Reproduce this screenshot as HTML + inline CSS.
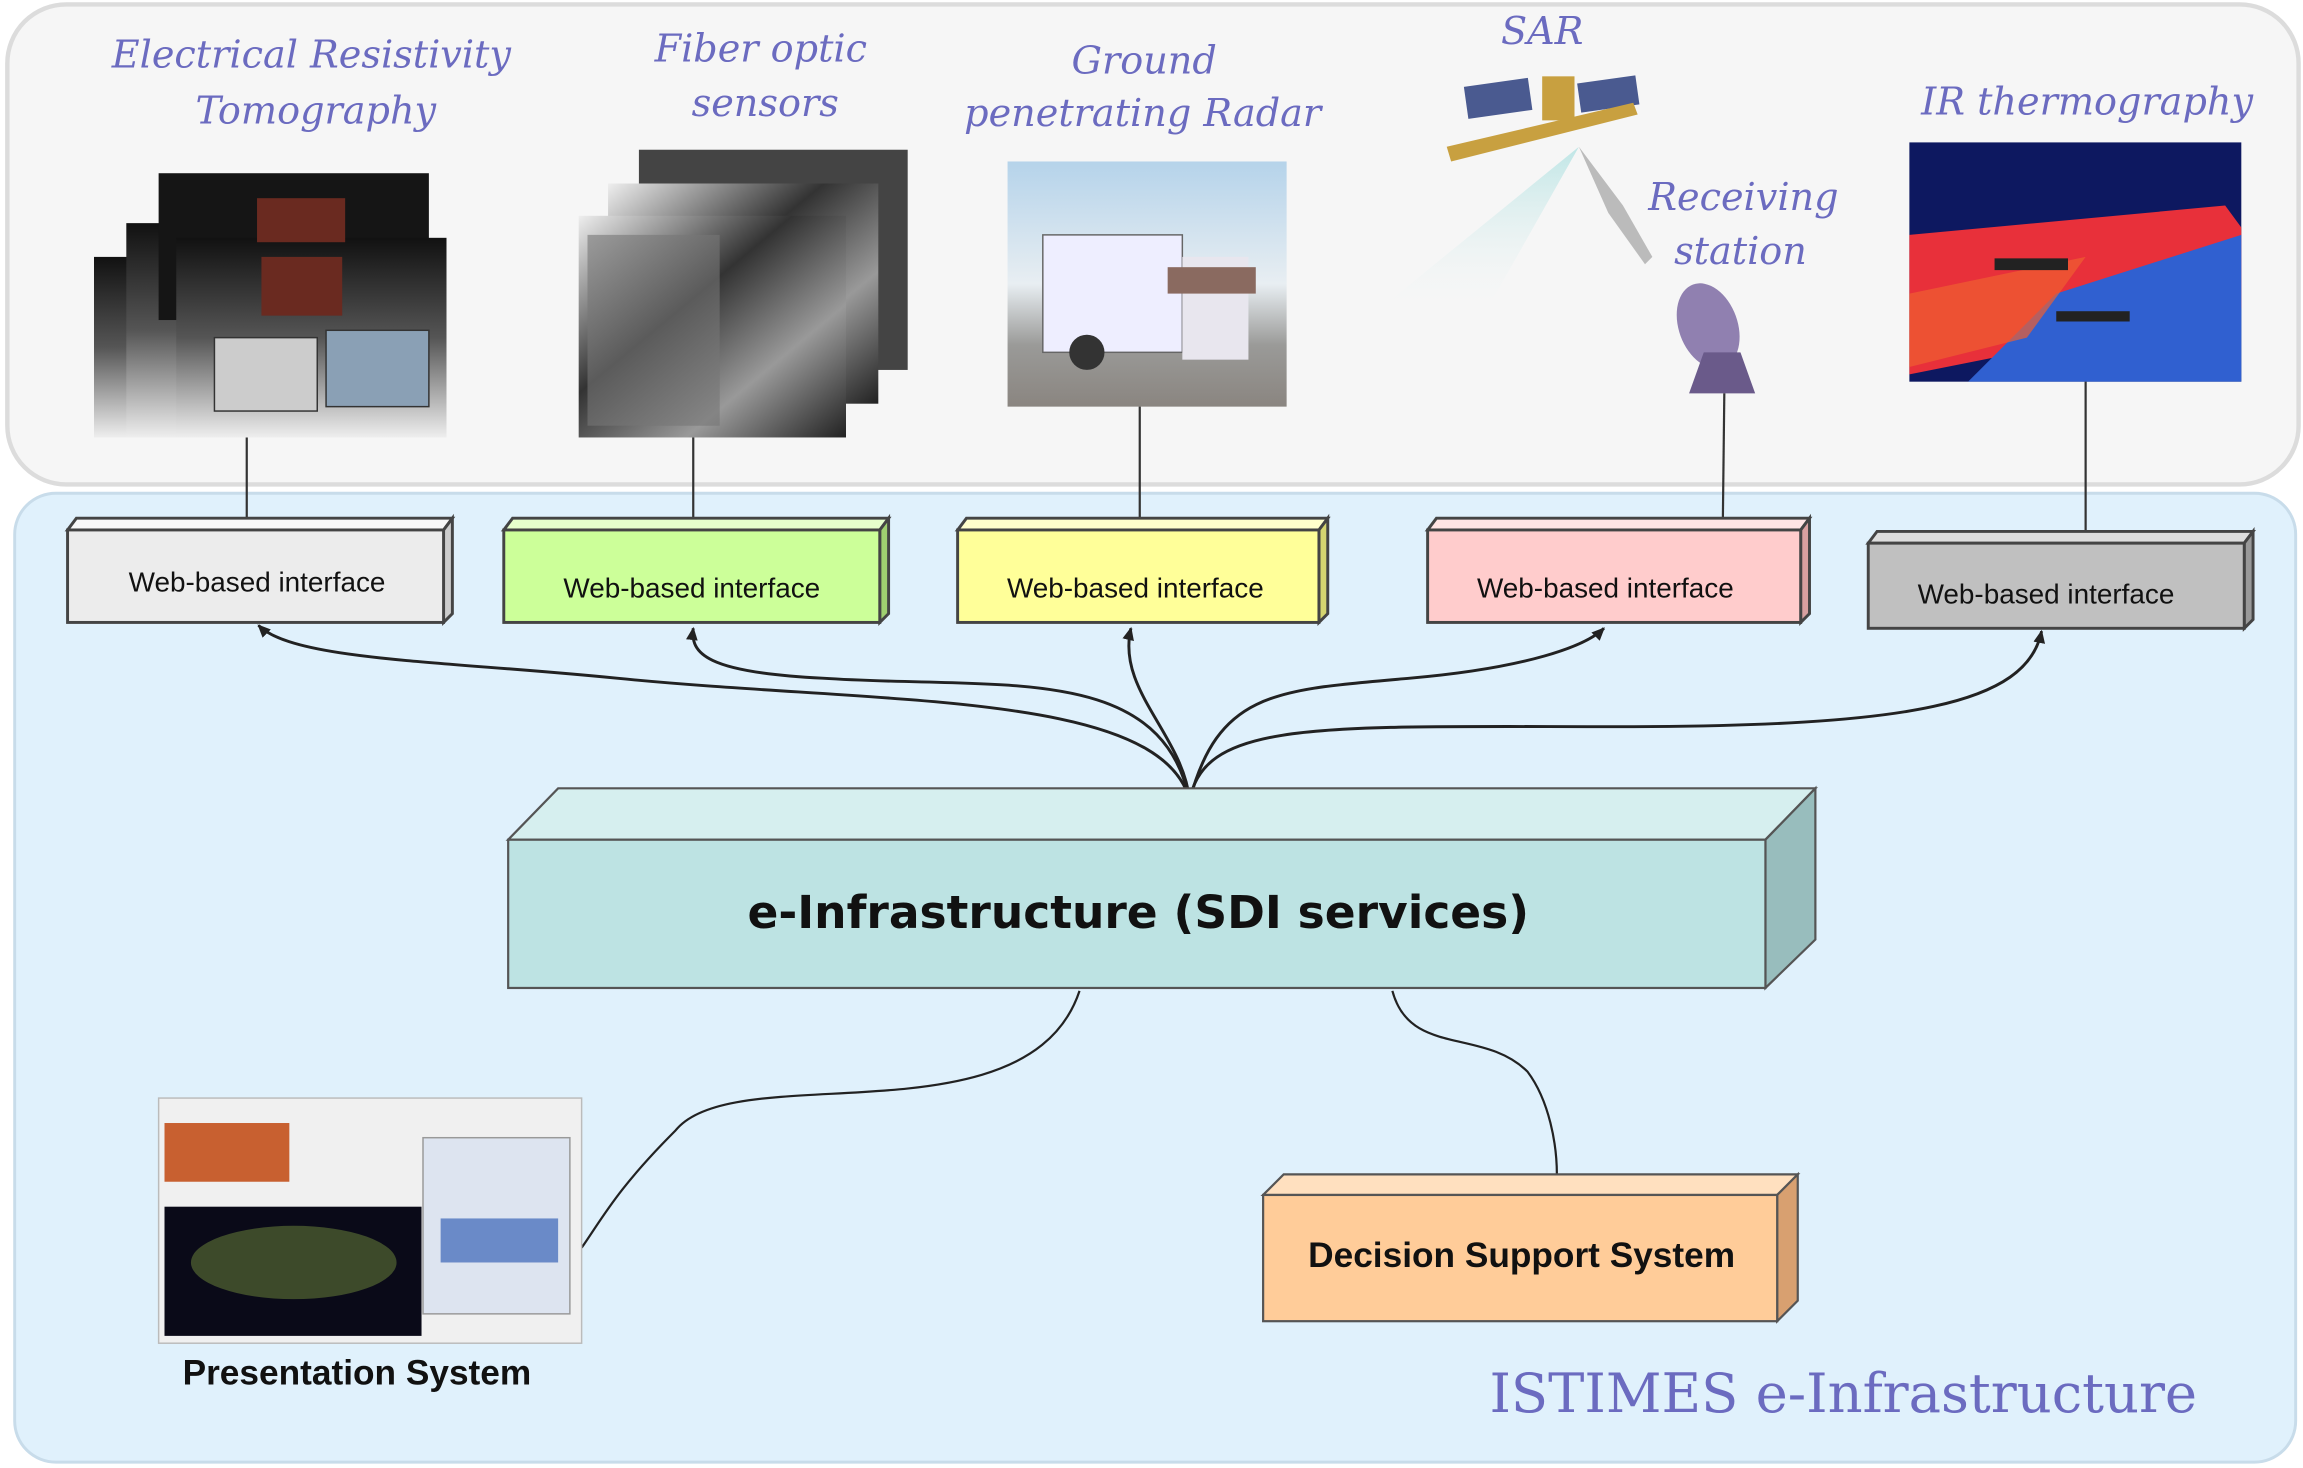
<!DOCTYPE html>
<html><head><meta charset="utf-8"><style>
html,body{margin:0;padding:0;background:#fff;}
svg{display:block;}
.hw{font-family:"URW Chancery L","DejaVu Serif","Liberation Serif",serif;font-style:italic;fill:#6b6bc0;}
.wb{font-family:"Liberation Sans",sans-serif;font-size:19px;fill:#111;}
</style></head><body>
<svg width="2303" height="1468" viewBox="0 0 1568 1000" preserveAspectRatio="none" xmlns="http://www.w3.org/2000/svg">
<defs>
<linearGradient id="ert" x1="0" y1="0" x2="0" y2="1"><stop offset="0" stop-color="#111"/><stop offset="0.5" stop-color="#555"/><stop offset="1" stop-color="#eee"/></linearGradient>
<linearGradient id="fib" x1="0" y1="0" x2="1" y2="1"><stop offset="0" stop-color="#eee"/><stop offset="0.4" stop-color="#333"/><stop offset="0.7" stop-color="#999"/><stop offset="1" stop-color="#222"/></linearGradient>
<linearGradient id="gpr" x1="0" y1="0" x2="0" y2="1"><stop offset="0" stop-color="#b5d3ea"/><stop offset="0.5" stop-color="#e8eef2"/><stop offset="0.75" stop-color="#9a9a98"/><stop offset="1" stop-color="#8a8580"/></linearGradient>
<linearGradient id="beam" x1="0" y1="0" x2="0" y2="1"><stop offset="0" stop-color="#bfe6e6"/><stop offset="1" stop-color="#f6f6f6" stop-opacity="0"/></linearGradient>
<marker id="ar" markerWidth="10" markerHeight="10" refX="8" refY="5" orient="auto" markerUnits="userSpaceOnUse"><path d="M0,1 L9,5 L0,9 Z" fill="#222"/></marker>
</defs>
<rect width="1568" height="1000" fill="#fff"/>
<rect x="5" y="3" width="1560" height="327" rx="40" fill="#f6f6f6" stroke="#dcdcdc" stroke-width="3"/>
<rect x="10" y="336" width="1553" height="660" rx="28" fill="#e0f1fc" stroke="#c8dcea" stroke-width="2"/>

<text class="hw" x="212" y="46" font-size="26" text-anchor="middle">Electrical Resistivity</text>
<text class="hw" x="215" y="84" font-size="26" text-anchor="middle">Tomography</text>
<text class="hw" x="518" y="42" font-size="26" text-anchor="middle">Fiber optic</text>
<text class="hw" x="521" y="79" font-size="26" text-anchor="middle">sensors</text>
<text class="hw" x="779" y="50" font-size="26" text-anchor="middle">Ground</text>
<text class="hw" x="778" y="86" font-size="26" text-anchor="middle">penetrating Radar</text>
<text class="hw" x="1050" y="30" font-size="26" text-anchor="middle">SAR</text>
<text class="hw" x="1187" y="143" font-size="26" text-anchor="middle">Receiving</text>
<text class="hw" x="1185" y="180" font-size="26" text-anchor="middle">station</text>
<text class="hw" x="1421" y="78" font-size="26" text-anchor="middle">IR thermography</text>

<rect x="64" y="175" width="110" height="123" fill="url(#ert)"/>
<rect x="86" y="152" width="120" height="146" fill="url(#ert)"/>
<rect x="108" y="118" width="184" height="100" fill="#151515"/>
<rect x="120" y="162" width="184" height="136" fill="url(#ert)"/>
<rect x="175" y="135" width="60" height="30" fill="#6a2a20"/>
<rect x="178" y="175" width="55" height="40" fill="#6a2a20"/>
<rect x="146" y="230" width="70" height="50" fill="#ccc" stroke="#333"/>
<rect x="222" y="225" width="70" height="52" fill="#8aa0b5" stroke="#333"/>

<rect x="435" y="102" width="183" height="150" fill="#444"/>
<rect x="414" y="125" width="184" height="150" fill="url(#fib)"/>
<rect x="394" y="147" width="182" height="151" fill="url(#fib)"/>
<rect x="400" y="160" width="90" height="130" fill="#777" opacity="0.6"/>

<rect x="686" y="110" width="190" height="167" fill="url(#gpr)"/>
<rect x="710" y="160" width="95" height="80" fill="#eef" stroke="#666"/>
<rect x="805" y="175" width="45" height="70" fill="#e8e6ee"/>
<rect x="795" y="182" width="60" height="18" fill="#8a6a60"/>
<circle cx="740" cy="240" r="12" fill="#333"/>

<polygon points="940,210 1075,100 1010,215" fill="url(#beam)"/>
<polygon points="1075,100 1105,140 1125,175 1120,180 1095,145" fill="#bbb"/>
<rect x="998" y="56" width="44" height="22" fill="#4a5a90" transform="rotate(-8 1020 67)"/>
<rect x="1075" y="54" width="40" height="20" fill="#4a5a90" transform="rotate(-8 1095 64)"/>
<rect x="1050" y="52" width="22" height="30" fill="#c8a040"/>
<polygon points="985,100 1112,70 1115,78 988,110" fill="#c8a040"/>
<ellipse cx="1163" cy="222" rx="20" ry="30" fill="#9080b0" transform="rotate(-20 1163 222)"/>
<polygon points="1160,240 1185,240 1195,268 1150,268" fill="#6a5a8a"/>

<rect x="1300" y="97" width="226" height="163" fill="#0d1860"/>
<polygon points="1300,160 1515,140 1526,155 1526,210 1300,255" fill="#e8303a"/>
<polygon points="1400,200 1526,160 1526,260 1340,260" fill="#3060d0"/>
<polygon points="1300,200 1420,175 1380,230 1300,250" fill="#f06030" opacity="0.7"/>
<rect x="1358" y="176" width="50" height="8" fill="#222"/>
<rect x="1400" y="212" width="50" height="7" fill="#222"/>

<g stroke="#333" stroke-width="1.5">
<line x1="168" y1="298" x2="168" y2="355"/>
<line x1="472" y1="298" x2="472" y2="355"/>
<line x1="776" y1="277" x2="776" y2="355"/>
<line x1="1174" y1="268" x2="1173" y2="355"/>
<line x1="1420" y1="260" x2="1420" y2="362"/>
</g>

<g stroke="#444" stroke-width="2">
<polygon points="52,353 308,353 302,361 46,361" fill="#f8f8f8"/>
<polygon points="302,361 308,353 308,418 302,424" fill="#ccc"/>
<rect x="46" y="361" width="256" height="63" fill="#ececec"/>
<polygon points="349,353 605,353 599,361 343,361" fill="#e6ffcc"/>
<polygon points="599,361 605,353 605,418 599,424" fill="#9fcf70"/>
<rect x="343" y="361" width="256" height="63" fill="#ccff99"/>
<polygon points="658,353 904,353 898,361 652,361" fill="#ffffcc"/>
<polygon points="898,361 904,353 904,418 898,424" fill="#d5d570"/>
<rect x="652" y="361" width="246" height="63" fill="#ffff99"/>
<polygon points="978,353 1232,353 1226,361 972,361" fill="#ffe4e4"/>
<polygon points="1226,361 1232,353 1232,418 1226,424" fill="#d8a0a0"/>
<rect x="972" y="361" width="254" height="63" fill="#ffcccc"/>
<polygon points="1278,362 1534,362 1528,370 1272,370" fill="#ddd"/>
<polygon points="1528,370 1534,362 1534,422 1528,428" fill="#999"/>
<rect x="1272" y="370" width="256" height="58" fill="#c0c0c0"/>
</g>
<text class="wb" x="175" y="403" text-anchor="middle">Web-based interface</text>
<text class="wb" x="471" y="407" text-anchor="middle">Web-based interface</text>
<text class="wb" x="773" y="407" text-anchor="middle">Web-based interface</text>
<text class="wb" x="1093" y="407" text-anchor="middle">Web-based interface</text>
<text class="wb" x="1393" y="411" text-anchor="middle">Web-based interface</text>

<g fill="none" stroke="#222" stroke-width="2" marker-end="url(#ar)">
<path d="M810,545 C790,470 600,480 420,462 C300,450 200,450 176,426"/>
<path d="M810,545 C790,450 680,470 560,462 C480,458 470,445 472,428"/>
<path d="M810,545 C805,500 760,470 770,428"/>
<path d="M810,545 C830,470 870,470 960,462 C1040,455 1080,440 1092,428"/>
<path d="M810,545 C820,490 900,495 1100,495 C1300,495 1380,480 1390,430"/>
</g>

<g stroke="#555" stroke-width="1.5">
<polygon points="380,537 1236,537 1202,572 346,572" fill="#d6efef"/>
<polygon points="1202,572 1236,537 1236,640 1202,673" fill="#98bdbd"/>
<rect x="346" y="572" width="856" height="101" fill="#bde3e3"/>
</g>
<text x="775" y="632" font-family="'DejaVu Sans','Liberation Sans',sans-serif" font-weight="bold" font-size="31" text-anchor="middle" fill="#111">e-Infrastructure (SDI services)</text>

<g fill="none" stroke="#222" stroke-width="1.5">
<path d="M735,675 C700,780 500,720 460,770 C420,810 410,830 396,850"/>
<path d="M948,675 C960,720 1010,700 1040,730 C1055,750 1060,780 1060,800"/>
</g>

<g stroke="#555" stroke-width="1.5">
<polygon points="874,800 1224,800 1210,814 860,814" fill="#ffe0bf"/>
<polygon points="1210,814 1224,800 1224,886 1210,900" fill="#d8a070"/>
<rect x="860" y="814" width="350" height="86" fill="#ffcc99"/>
</g>
<text x="1036" y="863" font-family="'Liberation Sans',sans-serif" font-weight="bold" font-size="24" text-anchor="middle" fill="#111">Decision Support System</text>

<rect x="108" y="748" width="288" height="167" fill="#f0f0f0" stroke="#bbb"/>
<rect x="112" y="765" width="85" height="40" fill="#c86030"/>
<rect x="112" y="822" width="175" height="88" fill="#0a0a18"/>
<ellipse cx="200" cy="860" rx="70" ry="25" fill="#4a5a30" opacity="0.8"/>
<rect x="288" y="775" width="100" height="120" fill="#dde4f0" stroke="#999"/>
<rect x="300" y="830" width="80" height="30" fill="#6a8ac8"/>
<text x="243" y="943" font-family="'Liberation Sans',sans-serif" font-weight="bold" font-size="24" text-anchor="middle" fill="#111">Presentation System</text>

<text class="hw" x="1255" y="962" font-size="37" text-anchor="middle" style="font-style:normal">ISTIMES e-Infrastructure</text>
</svg>
</body></html>
